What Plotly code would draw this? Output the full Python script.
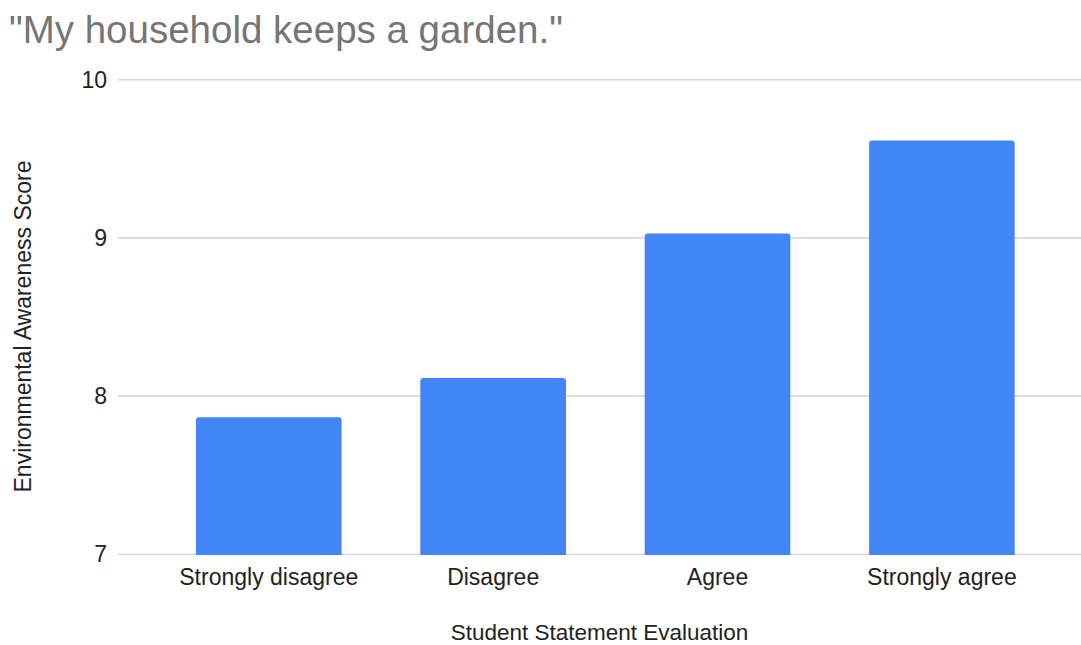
import plotly.graph_objects as go

# Survey responses and mean environmental awareness score per response
categories = ["Strongly disagree", "Disagree", "Agree", "Strongly agree"]
scores = [7.867, 8.115, 9.028, 9.616]
y_ticks = [7, 8, 9, 10]

FONT = "Liberation Sans, Arial, sans-serif"
BAR_BLUE = "#4285F4"
GRID = "#d9d9d9"
TEXT = "#222222"

fig = go.Figure(
    go.Bar(
        x=list(range(len(categories))),
        y=scores,
        marker=dict(color=BAR_BLUE, line=dict(width=0)),
        hoverinfo="skip",
    )
)

# Horizontal gridlines at every y tick, drawn beneath the bars so the ones on
# the plot edges (7 and 10) are not dropped.
grid_shapes = [
    dict(
        type="line",
        xref="paper",
        yref="y",
        x0=0,
        x1=1,
        y0=v,
        y1=v,
        layer="below",
        line=dict(color=GRID, width=1.6),
    )
    for v in y_ticks
]

fig.update_layout(
    width=1081,
    height=645,
    margin=dict(l=118, r=0, t=79, b=90),
    paper_bgcolor="white",
    plot_bgcolor="white",
    bargap=0.351,
    barcornerradius=3,
    showlegend=False,
    font=dict(family=FONT, color=TEXT, size=23),
    title=dict(
        text='"My household keeps a garden."',
        font=dict(family=FONT, size=38.5, color="#757575"),
        x=9 / 1081,
        xanchor="left",
        xref="container",
        y=1 - 30 / 645,
        yanchor="middle",
        yref="container",
    ),
    xaxis=dict(
        tickmode="array",
        tickvals=list(range(len(categories))),
        ticktext=categories,
        range=[-0.672, 3.62],
        showgrid=False,
        zeroline=False,
        showline=False,
        ticks="",
        ticklabelstandoff=6,
        tickfont=dict(size=23, color=TEXT),
        title=dict(
            text="Student Statement Evaluation",
            font=dict(size=22.5, color=TEXT),
            standoff=37,
        ),
        automargin=False,
    ),
    yaxis=dict(
        range=[6.996, 10.004],
        tickmode="array",
        tickvals=y_ticks,
        ticktext=[str(v) for v in y_ticks],
        showgrid=False,
        zeroline=False,
        showline=False,
        ticks="",
        ticklabelstandoff=10,
        tickfont=dict(size=23, color=TEXT),
        automargin=False,
    ),
    shapes=grid_shapes,
    annotations=[
        dict(
            text="Environmental Awareness Score",
            textangle=-90,
            xref="paper",
            yref="paper",
            x=-(118 - 22.5) / (1081 - 118),
            y=(645 - 90 - 327) / (645 - 79 - 90),
            xanchor="center",
            yanchor="middle",
            showarrow=False,
            font=dict(size=23, color=TEXT, family=FONT),
        )
    ],
)

fig.write_html("out.html")
